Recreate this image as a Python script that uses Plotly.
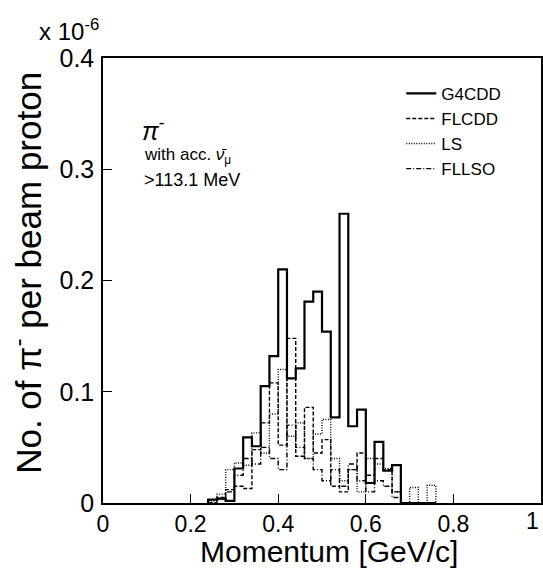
import plotly.graph_objects as go

# bin left edges (GeV/c), bin width 0.02
bin_edges = [round(0.24 + 0.02 * i, 2) for i in range(27)]  # 0.24 ... 0.76 (+ last edge)

g4cdd = [0.003, 0.004, 0.002, 0.031, 0.059, 0.051, 0.105, 0.132, 0.210, 0.112,
         0.121, 0.181, 0.190, 0.154, 0.077, 0.260, 0.069, 0.084, 0.018, 0.055,
         0.029, 0.034, 0, 0, 0, 0]
flcdd = [0, 0.005, 0.012, 0.015, 0.013, 0.048, 0.072, 0.108, 0.052, 0.148,
         0.042, 0.086, 0.045, 0.057, 0.015, 0.010, 0.030, 0.045, 0.025, 0.040,
         0.030, 0.010, 0, 0, 0, 0]
ls = [0.002, 0.008, 0.030, 0.036, 0.034, 0.063, 0.045, 0.080, 0.120, 0.060,
      0.072, 0.040, 0.062, 0.075, 0.040, 0.020, 0.030, 0.010, 0.040, 0.035,
      0.031, 0.010, 0, 0.014, 0, 0.016]
fllso = [0, 0.003, 0.010, 0.025, 0.040, 0.035, 0.050, 0.040, 0.030, 0.070,
         0.050, 0.040, 0.030, 0.020, 0.030, 0.015, 0.035, 0.020, 0.010, 0.020,
         0.015, 0.005, 0, 0, 0, 0]

x_ticks = [0, 0.2, 0.4, 0.6, 0.8, 1]
x_tick_labels = ["0", "0.2", "0.4", "0.6", "0.8", ""]   # "1" drawn right-aligned below
y_ticks = [0, 0.1, 0.2, 0.3, 0.4]
y_tick_labels = ["0", "0.1", "0.2", "0.3", "0.4"]

series = [("G4CDD", g4cdd, "solid", 2.2),
          ("FLCDD", flcdd, "4px,2px", 1.4),
          ("LS", ls, "1px,1.5px", 1.4),
          ("FLLSO", fllso, "5px,2px,1px,2px", 1.4)]


def step_xy(edges, vals):
    xs = [edges[0]]
    ys = [0]
    for e, v in zip(edges[:-1], vals):
        xs.append(e)
        ys.append(v)
    xs.append(edges[len(vals)])
    ys.append(0)
    return xs, ys


fig = go.Figure()
for name, vals, dash, w in series:
    xs, ys = step_xy(bin_edges, vals)
    fig.add_trace(go.Scatter(x=xs, y=ys, mode="lines", name=name,
                             line=dict(shape="hv", color="black", width=w, dash=dash)))

font = "Liberation Sans, Arial, sans-serif"
fig.update_layout(
    width=543, height=576,
    margin=dict(l=103, r=2, t=58, b=73),
    paper_bgcolor="white", plot_bgcolor="white",
    font=dict(family=font, color="black"),
    showlegend=True,
    legend=dict(x=0.681, y=0.96, xanchor="left", yanchor="top",
                bgcolor="rgba(0,0,0,0)", font=dict(size=17, family=font),
                itemwidth=30, tracegroupgap=0),
    xaxis=dict(range=[0, 1], tickvals=x_ticks, ticktext=x_tick_labels,
               ticks="inside", ticklen=9, tickwidth=1, tickcolor="black",
               showline=True, linecolor="black", linewidth=1.5, mirror=True,
               showgrid=False, zeroline=False, automargin=False,
               tickfont=dict(size=23)),
    yaxis=dict(range=[0, 0.4], tickvals=y_ticks, ticktext=y_tick_labels,
               ticks="inside", ticklen=9, tickwidth=1, tickcolor="black",
               showline=True, linecolor="black", linewidth=1.5, mirror=True,
               showgrid=False, zeroline=False, automargin=False,
               tickfont=dict(size=25), ticklabelstandoff=2),
    annotations=[
        dict(xref="paper", yref="paper", x=1.0, y=0, xanchor="right", yanchor="top",
             yshift=-3, text="1", showarrow=False, font=dict(size=23)),
        dict(xref="paper", yref="paper", x=0.516, y=-0.108, xanchor="center", yanchor="middle",
             text="Momentum [GeV/c]", showarrow=False, font=dict(size=30)),
        dict(xref="paper", yref="paper", x=-0.176, y=0.517, xanchor="center", yanchor="middle",
             textangle=-90, text="No. of π<sup>-</sup> per beam proton", showarrow=False,
             font=dict(size=35)),
        dict(xref="paper", yref="paper", x=-0.15, y=1.025, xanchor="left", yanchor="bottom",
             text="x 10<sup>-6</sup>", showarrow=False, font=dict(size=24)),
        dict(xref="paper", yref="paper", x=0.085, y=0.80, xanchor="left", yanchor="bottom",
             text="<i>π</i><sup>-</sup>", showarrow=False, font=dict(size=25)),
        dict(xref="paper", yref="paper", x=0.09, y=0.75, xanchor="left", yanchor="bottom",
             text="with acc. <i>ν̄</i><sub>μ</sub>", showarrow=False, font=dict(size=17)),
        dict(xref="paper", yref="paper", x=0.09, y=0.70, xanchor="left", yanchor="bottom",
             text="&gt;113.1 MeV", showarrow=False, font=dict(size=18)),
    ],
)

fig.write_html("out.html", config={"displayModeBar": False},
               post_script="document.body.style.margin='0';document.body.style.overflow='hidden';")
